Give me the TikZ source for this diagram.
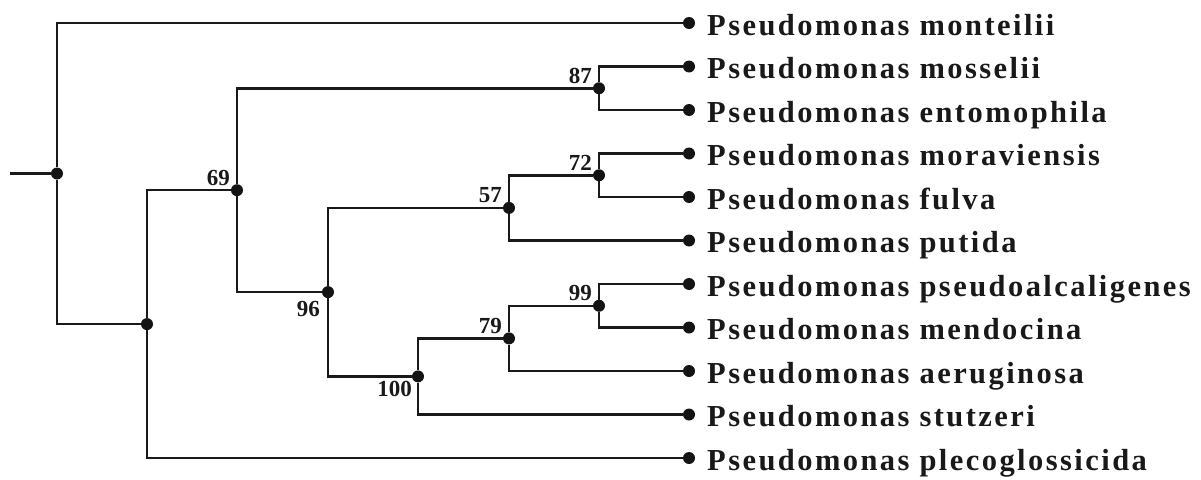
\documentclass[tikz,border=0pt]{standalone}
\usepackage{fontspec}
\setmainfont{Liberation Serif}
\newfontfamily\taxfont{Liberation Serif}[LetterSpace=8]
\begin{document}
\begin{tikzpicture}[x=1pt,y=-1pt,
  branch/.style={line width=2.5pt,draw=black!90},
  dot/.style={circle,fill=black!92,inner sep=0pt,minimum size=12pt},
  taxon/.style={anchor=base west,inner sep=0pt,xshift=18pt,yshift=-12pt,
    font=\taxfont\fontsize{30.5}{30.5}\bfseries\selectfont,text=black!90},
  boot/.style={inner sep=0pt,font=\fontsize{23}{23}\bfseries\selectfont,text=black!90},
  bootup/.style={boot,anchor=base east,xshift=-7pt,yshift=5pt},
]
\useasboundingbox (0,0) rectangle (1201,479);

% leaves
\node[dot] (l1)  at (689,23)    {};
\node[dot] (l2)  at (689,66.5)  {};
\node[dot] (l3)  at (689,110)   {};
\node[dot] (l4)  at (689,153.5) {};
\node[dot] (l5)  at (689,197)   {};
\node[dot] (l6)  at (689,240.5) {};
\node[dot] (l7)  at (689,284)   {};
\node[dot] (l8)  at (689,327.5) {};
\node[dot] (l9)  at (689,371)   {};
\node[dot] (l10) at (689,414.5) {};
\node[dot] (l11) at (689,458)   {};

% internal nodes
\node[dot] (n87)  at (599,88.25)  {};
\node[dot] (n72)  at (599,175.25) {};
\node[dot] (n57)  at (509,207.9)  {};
\node[dot] (n99)  at (599,305.75) {};
\node[dot] (n79)  at (509,338.4)  {};
\node[dot] (n100) at (418,376.4)  {};
\node[dot] (n96)  at (328,292.1)  {};
\node[dot] (n69)  at (237,190.2)  {};
\node[dot] (nb)   at (147,324.1)  {};
\node[dot] (root) at (57,173.5)   {};
\coordinate (stem) at (10,173.5);

% branches
\draw[branch] (stem) -- (root);
\draw[branch] (root) |- (l1);
\draw[branch] (root) |- (nb);
\draw[branch] (nb) |- (n69);
\draw[branch] (nb) |- (l11);
\draw[branch] (n69) |- (n87);
\draw[branch] (n69) |- (n96);
\draw[branch] (n87) |- (l2);
\draw[branch] (n87) |- (l3);
\draw[branch] (n96) |- (n57);
\draw[branch] (n96) |- (n100);
\draw[branch] (n57) |- (n72);
\draw[branch] (n57) |- (l6);
\draw[branch] (n72) |- (l4);
\draw[branch] (n72) |- (l5);
\draw[branch] (n100) |- (n79);
\draw[branch] (n100) |- (l10);
\draw[branch] (n79) |- (n99);
\draw[branch] (n79) |- (l9);
\draw[branch] (n99) |- (l7);
\draw[branch] (n99) |- (l8);

% taxon names
\node[taxon] (t1)  at (l1)  {Pseudomonas monteilii};
\node[taxon] (t2)  at (l2)  {Pseudomonas mosselii};
\node[taxon] (t3)  at (l3)  {Pseudomonas entomophila};
\node[taxon] (t4)  at (l4)  {Pseudomonas moraviensis};
\node[taxon] (t5)  at (l5)  {Pseudomonas fulva};
\node[taxon] (t6)  at (l6)  {Pseudomonas putida};
\node[taxon] (t7)  at (l7)  {Pseudomonas pseudoalcaligenes};
\node[taxon] (t8)  at (l8)  {Pseudomonas mendocina};
\node[taxon] (t9)  at (l9)  {Pseudomonas aeruginosa};
\node[taxon] (t10) at (l10) {Pseudomonas stutzeri};
\node[taxon] (t11) at (l11) {Pseudomonas plecoglossicida};

% bootstrap values
\node[bootup] (b87) at (n87) {87};
\node[bootup] (b72) at (n72) {72};
\node[bootup] (b57) at (n57) {57};
\node[bootup] (b99) at (n99) {99};
\node[bootup] (b79) at (n79) {79};
\node[bootup] (b69) at (n69) {69};
\node[boot,anchor=north east,xshift=-8pt,yshift=-9pt] (b96) at (n96) {96};
\node[boot,anchor=north east,xshift=-6pt,yshift=-5pt] (b100) at (n100) {100};
\end{tikzpicture}
\end{document}
